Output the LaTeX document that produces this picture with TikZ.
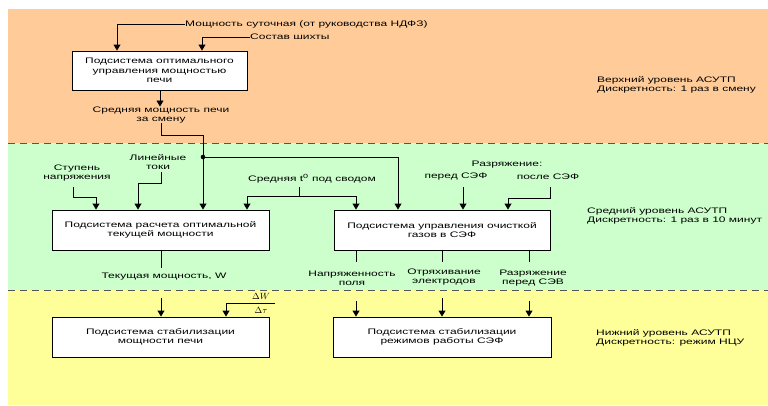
\documentclass[tikz,border=0pt]{standalone}
\usepackage{fontspec}
\setmainfont{Liberation Sans}[FakeStretch=1.5]
\usetikzlibrary{arrows.meta}
\definecolor{bandorange}{HTML}{FFCC99}
\definecolor{bandgreen}{HTML}{CCFFCC}
\definecolor{bandyellow}{HTML}{FFFF99}
\definecolor{dashgray}{HTML}{555555}
\tikzset{
  txt/.style={font=\fontsize{8}{9.3}\selectfont, align=center, inner sep=0pt, text=black},
  lbl/.style={txt, align=left, anchor=west},
  sysbox/.style={draw=black, fill=white, line width=0.9pt, txt, minimum height=40pt},
  ln/.style={line width=0.9pt, draw=black},
  arr/.style={ln, -{Triangle[width=7pt,length=6pt]}},
  sep/.style={draw=dashgray, line width=0.9pt, dash pattern=on 7pt off 5pt},
  frac/.style={inner sep=0pt, font=\fontsize{9}{10}\selectfont},
}
\begin{document}
\begin{tikzpicture}[x=1pt,y=-1pt]
\useasboundingbox (0,0) rectangle (768,405);
% bands
\fill[bandorange] (8,9) rectangle (768,143);
\fill[bandgreen] (8,143) rectangle (768,290);
\fill[bandyellow] (8,290) rectangle (768,405);
\draw[sep] (8,143) -- (768,143);
\draw[sep] (8,290) -- (768,290);

% boxes
\node[sysbox, minimum width=175pt, minimum height=39pt] (top) at (159.5,70.5) {Подсистема оптимального\\управления мощностью\\печи};
\node[sysbox, minimum width=217pt] (midL) at (160.5,230) {Подсистема расчета оптимальной\\текущей мощности};
\node[sysbox, minimum width=216pt] (midR) at (442,230) {Подсистема управления очисткой\\газов в СЭФ};
\node[sysbox, minimum width=217pt] (botL) at (160.5,337) {Подсистема стабилизации\\мощности печи};
\node[sysbox, minimum width=218pt] (botR) at (442,337) {Подсистема стабилизации\\режимов работы СЭФ};

% top level inputs
\node[lbl] (moshch) at (185,24) {Мощность суточная (от руководства НДФЗ)};
\node[lbl] (shihta) at (250,37) {Состав шихты};
\draw[arr] (moshch.west) -| (top.north -| 117,0);
\draw[arr] (shihta.west) -| (top.north -| 202,0);

% top output
\node[txt] (sredn) at (161,115) {Средняя мощность печи\\за смену};
\draw[arr] (top.south -| 160,0) -- (sredn.north -| 160,0);
\coordinate (split) at (203,157);
\draw[arr] (sredn.south -| 161,0) -- (161,135) -| (midL.north -| split);
\draw[arr] (split) -| (midR.north -| 398,0);
\fill (split) circle (2.3pt);

% middle left inputs
\node[txt] (stup) at (77,173) {Ступень\\напряжения};
\node[txt] (lin) at (158,162) {Линейные\\токи};
\node[txt] (tsv) at (312,179) {Средняя t\textsuperscript{0} под сводом};
\draw[arr] (73,187) -- (73,197) -| (midL.north -| 96,0);
\draw[arr] (161,172) -- (161,183) -| (midL.north -| 138,0);
\coordinate (tsplit) at (299,196);
\draw[ln] (299,187) -- (tsplit);
\draw[arr] (tsplit) -| (midL.north -| 247,0);
\draw[arr] (tsplit) -| (midR.north -| 356,0);

% middle right inputs
\node[txt] (razr) at (507,165) {Разряжение:};
\node[txt] (pered) at (456,177) {перед СЭФ};
\node[txt] (posle) at (548,177) {после СЭФ};
\draw[arr] (463,187) -- (midR.north -| 463,0);
\draw[arr] (550,187) -- (550,198) -| (midR.north -| 508,0);

% middle outputs
\node[txt] (tek) at (164,277) {Текущая мощность, W};
\draw[ln] (midL.south -| 161,0) -- (161,268);
\node[txt] (napr) at (352,278) {Напряженность\\поля};
\node[txt] (otr) at (444,277) {Отряхивание\\электродов};
\node[txt] (razr2) at (533,278) {Разряжение\\перед СЭВ};
\draw[ln] (midR.south -| 356,0) -- (356,262);
\draw[ln] (midR.south -| 442,0) -- (442,262);
\draw[ln] (midR.south -| 529,0) -- (529,262);

% bottom inputs
\draw[arr] (161,298) -- (botL.north -| 161,0);
\node[frac] (dW) at (261,296) {$\Delta W$};
\node[frac] (dt) at (261,310) {$\Delta \tau$};
\draw[arr] (275,303) -- (226,303) -- (botL.north -| 226,0);
\draw[arr] (356,301) -- (botR.north -| 356,0);
\draw[arr] (442,298) -- (botR.north -| 442,0);
\draw[arr] (529,301) -- (botR.north -| 529,0);

% level labels
\node[lbl] (lev1) at (597,85) {Верхний уровень АСУТП\\Дискретность: 1 раз в смену};
\node[lbl] (lev2) at (587,216) {Средний уровень АСУТП\\Дискретность: 1 раз в 10 минут};
\node[lbl] (lev3) at (596,338) {Нижний уровень АСУТП\\Дискретность: режим НЦУ};
\end{tikzpicture}
\end{document}
